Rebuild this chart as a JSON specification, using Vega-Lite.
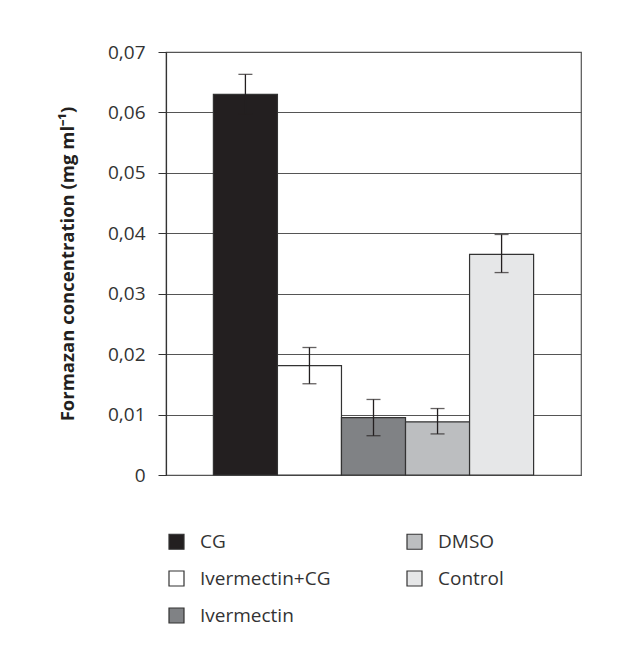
{
  "$schema": "https://vega.github.io/schema/vega-lite/v6.json",
  "width": 415,
  "height": 423,
  "autosize": {"type": "none"},
  "padding": {"left": 166, "top": 52, "right": 36, "bottom": 171},
  "background": "white",
  "config": {
    "view": {"stroke": "#555", "strokeWidth": 1.2},
    "font": "Open Sans"
  },
  "data": {
    "values": [
      {"group": "CG", "value": 0.063, "lo": 0.0597, "hi": 0.0663},
      {"group": "Ivermectin+CG", "value": 0.0181, "lo": 0.0151, "hi": 0.0211},
      {"group": "Ivermectin", "value": 0.0095, "lo": 0.0065, "hi": 0.0125},
      {"group": "DMSO", "value": 0.0088, "lo": 0.0068, "hi": 0.011},
      {"group": "Control", "value": 0.0365, "lo": 0.0335, "hi": 0.0398}
    ]
  },
  "encoding": {
    "x": {
      "field": "group",
      "type": "nominal",
      "sort": ["CG", "Ivermectin+CG", "Ivermectin", "DMSO", "Control"],
      "axis": null,
      "scale": {"paddingInner": 0, "paddingOuter": 0.74}
    }
  },
  "layer": [
    {
      "mark": {"type": "bar", "stroke": "#333", "strokeWidth": 1.2},
      "encoding": {
        "y": {
          "field": "value",
          "type": "quantitative",
          "scale": {"domain": [0, 0.07], "nice": false},
          "axis": {
            "values": [0, 0.01, 0.02, 0.03, 0.04, 0.05, 0.06, 0.07],
            "labelExpr": "datum.value == 0 ? '0' : replace(format(datum.value, '.2f'), '.', ',')",
            "tickSize": 8,
            "tickColor": "#333",
            "domainColor": "#333",
            "domainWidth": 1.2,
            "gridColor": "#555",
            "gridWidth": 1.2,
            "labelFontSize": 19,
            "labelColor": "#333",
            "labelPadding": 13,
            "title": "Formazan concentration (mg ml⁻¹)",
            "titleFontSize": 18.5,
            "titleFontWeight": "bold",
            "titleColor": "#231f20",
            "titlePadding": 30
          }
        },
        "color": {
          "field": "group",
          "type": "nominal",
          "scale": {
            "domain": ["CG", "Ivermectin+CG", "Ivermectin", "DMSO", "Control"],
            "range": ["#231f20", "#ffffff", "#808285", "#bcbec0", "#e6e7e8"]
          },
          "legend": {
            "title": null,
            "orient": "none",
            "legendX": 1,
            "legendY": 480,
            "columns": 2,
            "columnPadding": 73,
            "rowPadding": 16,
            "symbolType": "square",
            "symbolSize": 225,
            "symbolStrokeColor": "#333",
            "symbolStrokeWidth": 1.2,
            "labelFontSize": 19,
            "labelColor": "#333",
            "labelOffset": 14,
            "labelLimit": 300
          }
        }
      }
    },
    {
      "mark": {"type": "rule", "color": "#231f20", "strokeWidth": 1.3},
      "encoding": {
        "y": {"field": "lo", "type": "quantitative"},
        "y2": {"field": "hi"}
      }
    },
    {
      "mark": {"type": "tick", "color": "#231f20", "size": 14, "thickness": 1.3},
      "encoding": {"y": {"field": "hi", "type": "quantitative"}}
    },
    {
      "mark": {"type": "tick", "color": "#231f20", "size": 14, "thickness": 1.3},
      "encoding": {"y": {"field": "lo", "type": "quantitative"}}
    }
  ]
}
